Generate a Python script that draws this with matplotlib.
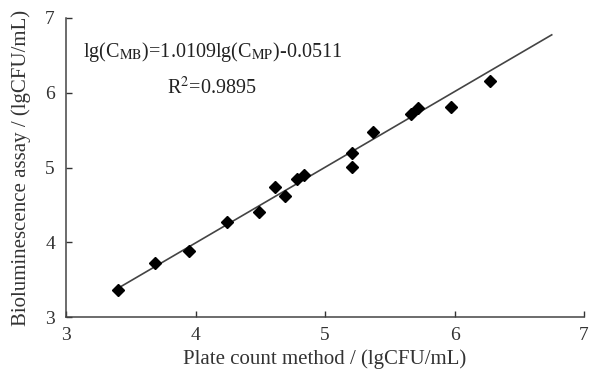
import numpy as np
import matplotlib.pyplot as plt

# plate count (x) vs bioluminescence (y), lgCFU/mL
plate_count = [3.40, 3.69, 3.95, 4.24, 4.49, 4.61, 4.69, 4.78, 4.84,
               5.21, 5.21, 5.37, 5.66, 5.72, 5.97, 6.27]
biolum = [3.37, 3.72, 3.89, 4.27, 4.40, 4.74, 4.62, 4.85, 4.90,
          5.19, 5.01, 5.47, 5.72, 5.80, 5.81, 6.16]

slope = 1.0109
intercept = -0.0511
fit_range = [3.4, 6.75]

x_ticks = [3, 4, 5, 6, 7]
y_ticks = [3, 4, 5, 6, 7]

plt.rcParams['font.family'] = ['Liberation Serif', 'DejaVu Serif']
plt.rcParams['mathtext.fontset'] = 'stix'

fig = plt.figure(figsize=(5.9, 3.71), dpi=100)
ax = fig.add_axes([0.112, 0.145, 0.878, 0.807])

xf = np.array(fit_range)
ax.plot(xf, slope * xf + intercept, color='#444444', lw=1.2, zorder=2)
ax.plot(plate_count, biolum, 'D', color='black', markersize=6.5, zorder=3)

ax.set_xlim(3, 7)
ax.set_ylim(3, 7)
ax.set_xticks(x_ticks)
ax.set_yticks(y_ticks)
ax.tick_params(direction='in', length=4, width=1, labelsize=14, colors='#333333',
               labelcolor='#333333')
ax.tick_params(axis='x', pad=7)
ax.tick_params(axis='y', pad=8)
for s in ['top', 'right']:
    ax.spines[s].set_visible(False)
for s in ['left', 'bottom']:
    ax.spines[s].set_color('#444444')
    ax.spines[s].set_linewidth(1.1)

ax.set_xlabel('Plate count method / (lgCFU/mL)', fontsize=15, color='#333333', labelpad=4)
ax.set_ylabel('Bioluminescence assay / (lgCFU/mL)', fontsize=15, color='#333333', labelpad=10)

ax.text(0.282, 0.885, r'lg(C$_{\mathrm{MB}}$)=1.0109lg(C$_{\mathrm{MP}}$)-0.0511',
        transform=ax.transAxes, ha='center', va='center', fontsize=14.5, color='#222222')
ax.text(0.282, 0.765, r'R$^{2}$=0.9895', transform=ax.transAxes,
        ha='center', va='center', fontsize=14.5, color='#222222')

fig.savefig('out.png', dpi=100)
